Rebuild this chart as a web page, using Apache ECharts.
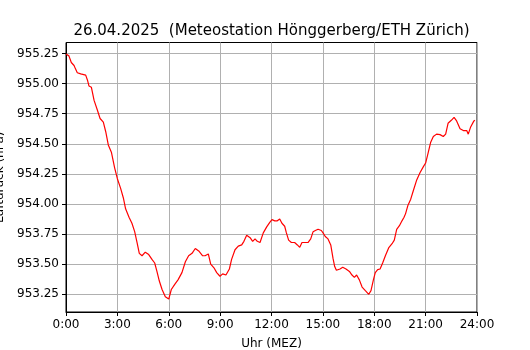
<!DOCTYPE html>
<html>
<head>
<meta charset="utf-8">
<script src="https://cdn.jsdelivr.net/npm/echarts@6/dist/echarts.min.js"></script>
<style>
  html, body { margin: 0; padding: 0; background: #fff; }
  #chart { width: 530px; height: 350px; }
</style>
</head>
<body>
<div id="chart"></div>
<script>
// Zeit in Stunden (MEZ)
const hours = [
  0.0, 0.17, 0.31, 0.47, 0.56, 0.66, 0.86, 1.15, 1.25, 1.34, 1.48, 1.64, 1.83, 1.99,
  2.18, 2.32, 2.47, 2.65, 2.84, 3.0, 3.19, 3.35, 3.48, 3.68, 3.85, 4.01, 4.15, 4.28,
  4.44, 4.63, 4.83, 5.02, 5.18, 5.31, 5.45, 5.61, 5.8, 6.0, 6.15, 6.34, 6.54, 6.77,
  6.97, 7.16, 7.36, 7.55, 7.75, 7.98, 8.12, 8.31, 8.45, 8.64, 8.8, 8.99, 9.15, 9.34,
  9.54, 9.67, 9.87, 10.06, 10.26, 10.39, 10.55, 10.75, 10.9, 11.04, 11.17, 11.33,
  11.52, 11.72, 11.91, 12.03, 12.19, 12.34, 12.48, 12.61, 12.77, 12.87, 13.0, 13.16,
  13.35, 13.51, 13.65, 13.78, 13.94, 14.13, 14.29, 14.43, 14.56, 14.72, 14.91, 15.01,
  15.14, 15.3, 15.46, 15.59, 15.69, 15.79, 16.0, 16.16, 16.35, 16.55, 16.7, 16.84,
  16.97, 17.13, 17.29, 17.48, 17.68, 17.81, 17.95, 18.06, 18.2, 18.34, 18.49, 18.65,
  18.84, 19.04, 19.17, 19.31, 19.47, 19.62, 19.74, 19.83, 19.97, 20.13, 20.28, 20.48,
  20.67, 20.87, 21.0, 21.14, 21.29, 21.45, 21.64, 21.84, 22.03, 22.17, 22.31, 22.5,
  22.66, 22.81, 23.01, 23.2, 23.4, 23.49, 23.63, 23.82, 23.88
];

// Luftdruck (hPa)
const pressure = [
  955.245, 955.23, 955.175, 955.15, 955.12, 955.09, 955.08, 955.07, 955.03, 954.98, 954.97, 954.86, 954.78, 954.71,
  954.68, 954.6, 954.49, 954.43, 954.3, 954.21, 954.13, 954.05, 953.96, 953.89, 953.84, 953.77, 953.68, 953.59,
  953.57, 953.6, 953.58, 953.54, 953.51, 953.44, 953.36, 953.29, 953.23, 953.21, 953.29, 953.33, 953.37, 953.43,
  953.52, 953.57, 953.59, 953.63, 953.61, 953.57, 953.57, 953.585, 953.5, 953.47, 953.43, 953.4, 953.42, 953.41,
  953.46, 953.54, 953.62, 953.65, 953.66, 953.69, 953.74, 953.72, 953.69, 953.71, 953.69, 953.68,
  953.76, 953.81, 953.85, 953.87, 953.86, 953.86, 953.875, 953.84, 953.815, 953.76, 953.7, 953.68,
  953.68, 953.66, 953.64, 953.68, 953.68, 953.68, 953.71, 953.77, 953.78, 953.79, 953.78, 953.76,
  953.73, 953.71, 953.66, 953.55, 953.48, 953.45, 953.46, 953.475, 953.46, 953.44, 953.41, 953.39,
  953.41, 953.37, 953.31, 953.28, 953.25, 953.28, 953.37, 953.43, 953.455, 953.46, 953.51, 953.57,
  953.635, 953.67, 953.7, 953.79, 953.82, 953.86, 953.89, 953.92, 953.99, 954.04, 954.11, 954.2,
  954.26, 954.31, 954.34, 954.42, 954.51, 954.56, 954.58, 954.576, 954.56, 954.58, 954.67, 954.695,
  954.72, 954.69, 954.625, 954.61, 954.61, 954.58, 954.64, 954.69, 954.695
];

const yTicks = [953.25, 953.5, 953.75, 954.0, 954.25, 954.5, 954.75, 955.0, 955.25];
const xTicks = [0, 3, 6, 9, 12, 15, 18, 21, 24];

const font = 'DejaVu Sans';
const chart = echarts.init(document.getElementById('chart'), null, { renderer: 'canvas' });

chart.setOption({
  animation: false,
  backgroundColor: '#fff',
  title: {
    text: '26.04.2025  (Meteostation Hönggerberg/ETH Zürich)',
    left: 266.5,
    top: 19,
    textAlign: 'center',
    textStyle: { fontFamily: font, fontSize: 15, fontWeight: 'normal', color: '#000' },
  },
  grid: {
    left: 66,
    right: 53,
    top: 42.5,
    bottom: 38,
    containLabel: false,
    outerBoundsMode: 'none',
    show: true,
    borderColor: '#000',
    borderWidth: 1,
    backgroundColor: 'transparent',
  },
  xAxis: {
    type: 'value',
    min: 0,
    max: 24,
    interval: 3,
    name: 'Uhr (MEZ)',
    nameLocation: 'middle',
    nameGap: 26,
    nameTextStyle: { fontFamily: font, fontSize: 12, color: '#000' },
    axisLine: { show: true, lineStyle: { color: '#000', width: 1 } },
    axisTick: { show: true, length: 4, lineStyle: { color: '#000' } },
    axisLabel: {
      fontFamily: font, fontSize: 12, color: '#000', margin: 7,
      formatter: (v) => (xTicks.includes(v) ? `${v}:00` : ''),
    },
    splitLine: { show: true, lineStyle: { color: '#b0b0b0', width: 1 } },
  },
  yAxis: {
    type: 'value',
    min: 953.103,
    max: 955.341,
    name: 'Luftdruck (hPa)',
    nameLocation: 'middle',
    nameRotate: 90,
    nameGap: 44,
    nameTextStyle: { fontFamily: font, fontSize: 12, color: '#000' },
    axisLine: { show: true, lineStyle: { color: '#000', width: 1 } },
    axisTick: { show: true, length: 4, lineStyle: { color: '#000' }, customValues: yTicks },
    axisLabel: {
      fontFamily: font, fontSize: 12, color: '#000', margin: 7,
      customValues: yTicks,
      formatter: (v) => v.toFixed(2),
    },
    splitLine: { show: true, lineStyle: { color: '#b0b0b0', width: 1 } },
  },
  series: [
    {
      type: 'line',
      data: hours.map((h, i) => [h, pressure[i]]),
      showSymbol: false,
      smooth: false,
      lineStyle: { color: '#ff0000', width: 1.2 },
      itemStyle: { color: '#ff0000' },
    },
  ],
});
</script>
</body>
</html>
